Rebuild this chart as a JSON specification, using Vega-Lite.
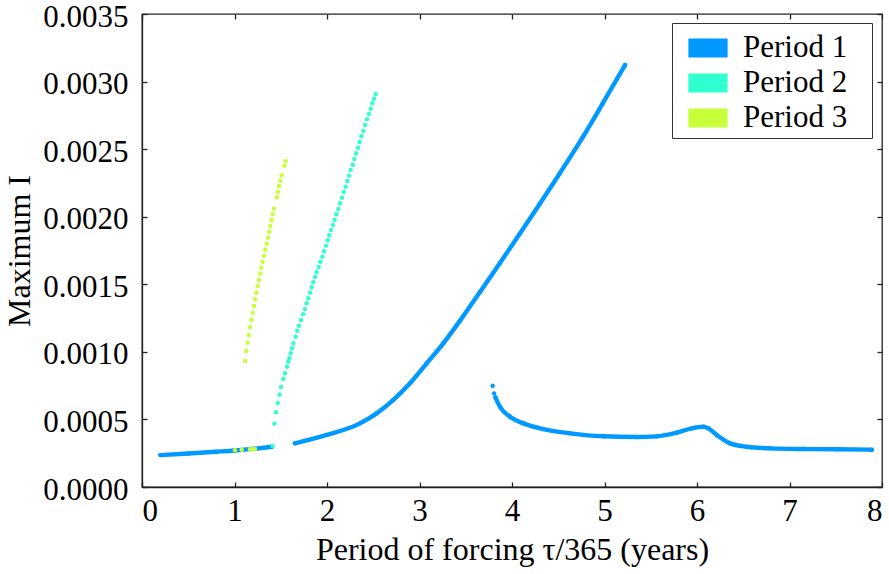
{
  "$schema": "https://vega.github.io/schema/vega-lite/v6.json",
  "width": 740,
  "height": 473,
  "autosize": {"type": "none"},
  "padding": {"left": 142, "top": 14, "right": 7, "bottom": 87},
  "background": "white",
  "config": {
    "font": "Liberation Serif, DejaVu Serif, serif",
    "view": {"stroke": "#222222", "strokeWidth": 1.3},
    "text": {"font": "Liberation Serif, DejaVu Serif, serif"},
    "legend": {"labelFont": "Liberation Serif, DejaVu Serif, serif"},
    "axis": {"grid": false, "labelFont": "Liberation Serif, DejaVu Serif, serif", "titleFont": "Liberation Serif, DejaVu Serif, serif", "labelFontSize": 31, "titleFontSize": 32, "titleFontWeight": "normal", "labelColor": "black", "titleColor": "black", "domainColor": "#222222", "domainWidth": 1.3, "tickColor": "#222222", "tickWidth": 1.3, "tickSize": -5}
  },
  "data": {"values": [
    {"period": "Period 1", "seg": "A", "tau": 0.2, "imax": 0.000236},
    {"period": "Period 1", "seg": "A", "tau": 0.5, "imax": 0.000248},
    {"period": "Period 1", "seg": "A", "tau": 0.8, "imax": 0.000261},
    {"period": "Period 1", "seg": "A", "tau": 1.0, "imax": 0.00027},
    {"period": "Period 1", "seg": "A", "tau": 1.2, "imax": 0.000282},
    {"period": "Period 1", "seg": "A", "tau": 1.4, "imax": 0.000298},
    {"period": "Period 1", "seg": "B", "tau": 1.654, "imax": 0.000323},
    {"period": "Period 1", "seg": "B", "tau": 1.997, "imax": 0.000385},
    {"period": "Period 1", "seg": "B", "tau": 2.357, "imax": 0.000471},
    {"period": "Period 1", "seg": "B", "tau": 2.537, "imax": 0.000545},
    {"period": "Period 1", "seg": "B", "tau": 2.717, "imax": 0.000644},
    {"period": "Period 1", "seg": "B", "tau": 2.897, "imax": 0.000767},
    {"period": "Period 1", "seg": "B", "tau": 3.078, "imax": 0.000915},
    {"period": "Period 1", "seg": "B", "tau": 3.257, "imax": 0.001063},
    {"period": "Period 1", "seg": "B", "tau": 3.438, "imax": 0.001231},
    {"period": "Period 1", "seg": "B", "tau": 3.654, "imax": 0.001443},
    {"period": "Period 1", "seg": "B", "tau": 3.87, "imax": 0.001658},
    {"period": "Period 1", "seg": "B", "tau": 4.086, "imax": 0.001876},
    {"period": "Period 1", "seg": "B", "tau": 4.303, "imax": 0.002098},
    {"period": "Period 1", "seg": "B", "tau": 4.519, "imax": 0.002324},
    {"period": "Period 1", "seg": "B", "tau": 4.757, "imax": 0.00258},
    {"period": "Period 1", "seg": "B", "tau": 4.984, "imax": 0.002842},
    {"period": "Period 1", "seg": "B", "tau": 5.222, "imax": 0.003123},
    {"period": "Period 1", "seg": "Cdots", "tau": 3.791, "imax": 0.00075},
    {"period": "Period 1", "seg": "Cdots", "tau": 3.807, "imax": 0.000692},
    {"period": "Period 1", "seg": "C", "tau": 3.822, "imax": 0.000662},
    {"period": "Period 1", "seg": "C", "tau": 3.87, "imax": 0.000594},
    {"period": "Period 1", "seg": "C", "tau": 3.978, "imax": 0.00052},
    {"period": "Period 1", "seg": "C", "tau": 4.122, "imax": 0.000471},
    {"period": "Period 1", "seg": "C", "tau": 4.338, "imax": 0.000429},
    {"period": "Period 1", "seg": "C", "tau": 4.627, "imax": 0.000397},
    {"period": "Period 1", "seg": "C", "tau": 4.987, "imax": 0.000375},
    {"period": "Period 1", "seg": "C", "tau": 5.348, "imax": 0.00037},
    {"period": "Period 1", "seg": "C", "tau": 5.564, "imax": 0.000375},
    {"period": "Period 1", "seg": "C", "tau": 5.781, "imax": 0.000402},
    {"period": "Period 1", "seg": "C", "tau": 5.943, "imax": 0.000434},
    {"period": "Period 1", "seg": "C", "tau": 6.068, "imax": 0.000446},
    {"period": "Period 1", "seg": "C", "tau": 6.122, "imax": 0.000434},
    {"period": "Period 1", "seg": "C", "tau": 6.213, "imax": 0.000385},
    {"period": "Period 1", "seg": "C", "tau": 6.357, "imax": 0.000323},
    {"period": "Period 1", "seg": "C", "tau": 6.537, "imax": 0.000298},
    {"period": "Period 1", "seg": "C", "tau": 6.789, "imax": 0.000286},
    {"period": "Period 1", "seg": "C", "tau": 7.149, "imax": 0.000281},
    {"period": "Period 1", "seg": "C", "tau": 7.511, "imax": 0.000279},
    {"period": "Period 1", "seg": "C", "tau": 7.889, "imax": 0.000276},
    {"period": "Period 2", "seg": "D", "tau": 1.413, "imax": 0.000303},
    {"period": "Period 2", "seg": "D", "tau": 1.431, "imax": 0.000469},
    {"period": "Period 2", "seg": "D", "tau": 1.449, "imax": 0.000553},
    {"period": "Period 2", "seg": "D", "tau": 1.467, "imax": 0.000622},
    {"period": "Period 2", "seg": "D", "tau": 1.488, "imax": 0.000683},
    {"period": "Period 2", "seg": "D", "tau": 1.503, "imax": 0.00074},
    {"period": "Period 2", "seg": "D", "tau": 1.528, "imax": 0.000799},
    {"period": "Period 2", "seg": "D", "tau": 1.546, "imax": 0.000841},
    {"period": "Period 2", "seg": "D", "tau": 1.568, "imax": 0.00089},
    {"period": "Period 2", "seg": "D", "tau": 1.582, "imax": 0.000927},
    {"period": "Period 2", "seg": "D", "tau": 1.593, "imax": 0.000952},
    {"period": "Period 2", "seg": "D", "tau": 1.607, "imax": 0.000989},
    {"period": "Period 2", "seg": "D", "tau": 1.622, "imax": 0.001026},
    {"period": "Period 2", "seg": "D", "tau": 1.636, "imax": 0.001063},
    {"period": "Period 2", "seg": "D", "tau": 1.661, "imax": 0.001112},
    {"period": "Period 2", "seg": "D", "tau": 1.679, "imax": 0.001157},
    {"period": "Period 2", "seg": "D", "tau": 1.697, "imax": 0.001194},
    {"period": "Period 2", "seg": "D", "tau": 1.719, "imax": 0.001236},
    {"period": "Period 2", "seg": "D", "tau": 1.741, "imax": 0.001278},
    {"period": "Period 2", "seg": "D", "tau": 1.762, "imax": 0.001317},
    {"period": "Period 2", "seg": "D", "tau": 1.78, "imax": 0.001359},
    {"period": "Period 2", "seg": "D", "tau": 1.798, "imax": 0.001396},
    {"period": "Period 2", "seg": "D", "tau": 1.816, "imax": 0.001438},
    {"period": "Period 2", "seg": "D", "tau": 1.834, "imax": 0.001478},
    {"period": "Period 2", "seg": "D", "tau": 1.852, "imax": 0.001515},
    {"period": "Period 2", "seg": "D", "tau": 1.87, "imax": 0.001554},
    {"period": "Period 2", "seg": "D", "tau": 1.888, "imax": 0.001591},
    {"period": "Period 2", "seg": "D", "tau": 1.91, "imax": 0.001628},
    {"period": "Period 2", "seg": "D", "tau": 1.928, "imax": 0.001667},
    {"period": "Period 2", "seg": "D", "tau": 1.95, "imax": 0.001704},
    {"period": "Period 2", "seg": "D", "tau": 1.968, "imax": 0.001744},
    {"period": "Period 2", "seg": "D", "tau": 1.989, "imax": 0.001786},
    {"period": "Period 2", "seg": "D", "tau": 2.007, "imax": 0.001826},
    {"period": "Period 2", "seg": "D", "tau": 2.025, "imax": 0.001863},
    {"period": "Period 2", "seg": "D", "tau": 2.043, "imax": 0.001902},
    {"period": "Period 2", "seg": "D", "tau": 2.065, "imax": 0.001939},
    {"period": "Period 2", "seg": "D", "tau": 2.083, "imax": 0.001978},
    {"period": "Period 2", "seg": "D", "tau": 2.101, "imax": 0.002018},
    {"period": "Period 2", "seg": "D", "tau": 2.123, "imax": 0.002057},
    {"period": "Period 2", "seg": "D", "tau": 2.141, "imax": 0.002099},
    {"period": "Period 2", "seg": "D", "tau": 2.162, "imax": 0.002141},
    {"period": "Period 2", "seg": "D", "tau": 2.18, "imax": 0.002183},
    {"period": "Period 2", "seg": "D", "tau": 2.202, "imax": 0.002222},
    {"period": "Period 2", "seg": "D", "tau": 2.22, "imax": 0.002264},
    {"period": "Period 2", "seg": "D", "tau": 2.238, "imax": 0.002304},
    {"period": "Period 2", "seg": "D", "tau": 2.256, "imax": 0.002346},
    {"period": "Period 2", "seg": "D", "tau": 2.278, "imax": 0.002385},
    {"period": "Period 2", "seg": "D", "tau": 2.295, "imax": 0.002427},
    {"period": "Period 2", "seg": "D", "tau": 2.314, "imax": 0.002469},
    {"period": "Period 2", "seg": "D", "tau": 2.335, "imax": 0.002511},
    {"period": "Period 2", "seg": "D", "tau": 2.353, "imax": 0.002553},
    {"period": "Period 2", "seg": "D", "tau": 2.371, "imax": 0.002595},
    {"period": "Period 2", "seg": "D", "tau": 2.393, "imax": 0.002634},
    {"period": "Period 2", "seg": "D", "tau": 2.411, "imax": 0.002679},
    {"period": "Period 2", "seg": "D", "tau": 2.432, "imax": 0.002721},
    {"period": "Period 2", "seg": "D", "tau": 2.454, "imax": 0.00276},
    {"period": "Period 2", "seg": "D", "tau": 2.472, "imax": 0.002799},
    {"period": "Period 2", "seg": "D", "tau": 2.49, "imax": 0.002839},
    {"period": "Period 2", "seg": "D", "tau": 2.508, "imax": 0.002873},
    {"period": "Period 2", "seg": "D", "tau": 2.526, "imax": 0.002908},
    {"period": "Period 3", "seg": "E", "tau": 1.005, "imax": 0.000272},
    {"period": "Period 3", "seg": "E", "tau": 1.078, "imax": 0.000275},
    {"period": "Period 3", "seg": "E", "tau": 1.168, "imax": 0.000279},
    {"period": "Period 3", "seg": "E", "tau": 1.19, "imax": 0.00028},
    {"period": "Period 3", "seg": "E", "tau": 1.222, "imax": 0.000282},
    {"period": "Period 3", "seg": "E", "tau": 1.114, "imax": 0.000932},
    {"period": "Period 3", "seg": "E", "tau": 1.128, "imax": 0.001006},
    {"period": "Period 3", "seg": "E", "tau": 1.142, "imax": 0.001068},
    {"period": "Period 3", "seg": "E", "tau": 1.153, "imax": 0.001125},
    {"period": "Period 3", "seg": "E", "tau": 1.168, "imax": 0.001184},
    {"period": "Period 3", "seg": "E", "tau": 1.182, "imax": 0.001238},
    {"period": "Period 3", "seg": "E", "tau": 1.196, "imax": 0.00129},
    {"period": "Period 3", "seg": "E", "tau": 1.211, "imax": 0.001339},
    {"period": "Period 3", "seg": "E", "tau": 1.222, "imax": 0.001389},
    {"period": "Period 3", "seg": "E", "tau": 1.236, "imax": 0.001438},
    {"period": "Period 3", "seg": "E", "tau": 1.25, "imax": 0.001487},
    {"period": "Period 3", "seg": "E", "tau": 1.265, "imax": 0.001532},
    {"period": "Period 3", "seg": "E", "tau": 1.279, "imax": 0.001579},
    {"period": "Period 3", "seg": "E", "tau": 1.29, "imax": 0.001623},
    {"period": "Period 3", "seg": "E", "tau": 1.305, "imax": 0.001667},
    {"period": "Period 3", "seg": "E", "tau": 1.319, "imax": 0.001712},
    {"period": "Period 3", "seg": "E", "tau": 1.333, "imax": 0.001756},
    {"period": "Period 3", "seg": "E", "tau": 1.348, "imax": 0.0018},
    {"period": "Period 3", "seg": "E", "tau": 1.362, "imax": 0.001845},
    {"period": "Period 3", "seg": "E", "tau": 1.377, "imax": 0.001889},
    {"period": "Period 3", "seg": "E", "tau": 1.387, "imax": 0.001931},
    {"period": "Period 3", "seg": "E", "tau": 1.402, "imax": 0.001976},
    {"period": "Period 3", "seg": "E", "tau": 1.413, "imax": 0.002018},
    {"period": "Period 3", "seg": "E", "tau": 1.427, "imax": 0.002059},
    {"period": "Period 3", "seg": "E", "tau": 1.459, "imax": 0.002144},
    {"period": "Period 3", "seg": "E", "tau": 1.47, "imax": 0.002185},
    {"period": "Period 3", "seg": "E", "tau": 1.481, "imax": 0.002227},
    {"period": "Period 3", "seg": "E", "tau": 1.495, "imax": 0.002267},
    {"period": "Period 3", "seg": "E", "tau": 1.51, "imax": 0.002307},
    {"period": "Period 3", "seg": "E", "tau": 1.539, "imax": 0.002378},
    {"period": "Period 3", "seg": "E", "tau": 1.553, "imax": 0.002412}
  ]},
  "layer": [
    {
      "transform": [{"filter": "datum.period === 'Period 1' && datum.seg !== 'Cdots'"}],
      "mark": {"type": "line", "strokeWidth": 4.4, "strokeCap": "round", "strokeJoin": "round", "interpolate": "monotone"},
      "encoding": {
        "x": {"field": "tau", "type": "quantitative", "scale": {"domain": [0, 8], "nice": false}, "axis": {"orient": "bottom", "values": [0, 1, 2, 3, 4, 5, 6, 7, 8], "format": "d", "title": "Period of forcing τ/365 (years)", "labelPadding": 14, "titlePadding": 8}},
        "y": {"field": "imax", "type": "quantitative", "scale": {"domain": [0, 0.0035], "nice": false}, "axis": {"orient": "left", "values": [0, 0.0005, 0.001, 0.0015, 0.002, 0.0025, 0.003, 0.0035], "format": ".4f", "title": "Maximum I", "labelPadding": 19, "labelOffset": 3, "titlePadding": 6}},
        "color": {"field": "period", "type": "nominal", "scale": {"domain": ["Period 1", "Period 2", "Period 3"], "range": ["#0099ff", "#30ffcf", "#c7ff38"]}, "legend": {
          "title": null, "orient": "none", "legendX": 530, "legendY": 9,
          "strokeColor": "#333333", "fillColor": "white", "padding": 5,
          "symbolType": "M-1,-0.47H1V0.47H-1Z M8.2,0", "symbolSize": 1444, "symbolOffset": 11,
          "symbolStrokeColor": "black", "symbolStrokeWidth": 1.2,
          "labelFont": "Liberation Serif, DejaVu Serif, serif", "labelFontSize": 31, "labelColor": "black", "labelOffset": 15, "rowPadding": -1,
          "encode": {"symbols": {"update": {"fill": {"scale": "color", "field": "value"}, "stroke": {"value": "black"}, "strokeWidth": {"value": 1.2}, "opacity": {"value": 1}, "fillOpacity": {"value": 1}, "strokeOpacity": {"value": 1}}}}
        }},
        "detail": {"field": "seg", "type": "nominal"},
        "order": {"field": "tau", "type": "quantitative"}
      }
    },
    {
      "mark": {"type": "circle", "size": 20, "opacity": 1},
      "encoding": {
        "x": {"field": "tau", "type": "quantitative", "axis": null},
        "y": {"field": "imax", "type": "quantitative", "axis": null},
        "color": {"field": "period", "type": "nominal"}
      }
    },
    {
      "mark": {"type": "circle", "opacity": 0},
      "encoding": {
        "x": {"field": "tau", "type": "quantitative", "axis": {"orient": "top", "values": [0, 1, 2, 3, 4, 5, 6, 7, 8], "labels": false, "title": null, "domain": false}},
        "y": {"field": "imax", "type": "quantitative", "axis": {"orient": "right", "values": [0, 0.0005, 0.001, 0.0015, 0.002, 0.0025, 0.003, 0.0035], "labels": false, "title": null, "domain": false}}
      }
    }
  ],
  "resolve": {"axis": {"x": "independent", "y": "independent"}}
}
